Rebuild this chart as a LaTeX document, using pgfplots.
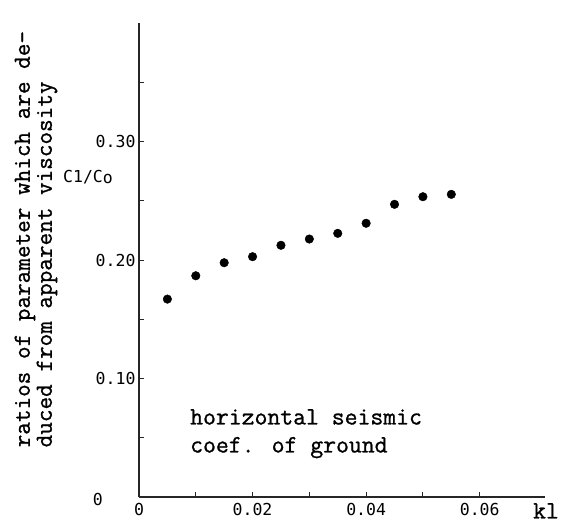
\documentclass[border=0pt]{standalone}
\usepackage{fontspec}
\newfontfamily\tw{Latin Modern Mono}[FakeBold=1.0]
\newfontfamily\tickfont{DejaVu Sans Mono}
\usepackage{pgfplots}
\pgfplotsset{compat=1.18}
\begin{document}
\begin{tikzpicture}[x=1pt,y=1pt]
\path (-139,-31) rectangle (423,497);
\begin{axis}[
  at={(0pt,0pt)}, anchor=south west,
  scale only axis, width=406pt, height=474pt,
  xmin=0, xmax=0.0715, ymin=0, ymax=0.40,
  axis lines=left,
  axis line style={-, line width=1.1pt, black!85},
  xtick={0,0.02,0.04,0.06}, xticklabels={0,0.02,0.04,0.06},
  minor xtick={0.01,0.03,0.05},
  ytick={0.1,0.2,0.3}, yticklabels={0.10,0.20,0.30},
  minor ytick={0.05,0.15,0.25,0.35},
  tick align=inside, major tick length=5pt, minor tick length=5pt,
  tick style={black!85, line width=0.9pt},
  ticklabel style={font=\tickfont\fontsize{16.5}{16.5}\selectfont},
  xticklabel style={yshift=-2.5pt},
  scaled ticks=false,
  clip=false,
]
\addplot[only marks, mark=*, mark size=4.3pt, black] table {
x y
0.005 0.167
0.010 0.1867
0.015 0.1977
0.020 0.2028
0.025 0.2124
0.030 0.2177
0.035 0.2225
0.040 0.2310
0.045 0.2470
0.050 0.2534
0.055 0.2554
};
\node[rotate=90, align=left, inner sep=0pt, font=\tw\fontsize{24.5}{22}\selectfont]
  at ([xshift=-103pt]axis description cs:0,0.544)
  {ratios of parameter which are de-\\duced from apparent viscosity};
\node[anchor=north west, align=left, inner sep=0pt, font=\tw\fontsize{25}{28}\selectfont]
  at ([xshift=51pt,yshift=88pt]axis description cs:0,0)
  {horizontal seismic\\coef. of ground};
\node[anchor=north, inner sep=0pt, font=\tw\fontsize{25}{25}\selectfont]
  at ([xshift=1pt,yshift=-6pt]axis description cs:1,0) {kl};
\node[anchor=east, inner sep=0pt, font=\tickfont\fontsize{16.5}{16.5}\selectfont]
  at ([xshift=-36pt,yshift=-2pt]axis description cs:0,0) {0};
\node[inner sep=0pt, font=\tickfont\fontsize{16.5}{16.5}\selectfont]
  at ([xshift=-51pt,yshift=320pt]axis description cs:0,0) {C1/C\raisebox{-1.5pt}{o}};
\end{axis}
\end{tikzpicture}
\end{document}
